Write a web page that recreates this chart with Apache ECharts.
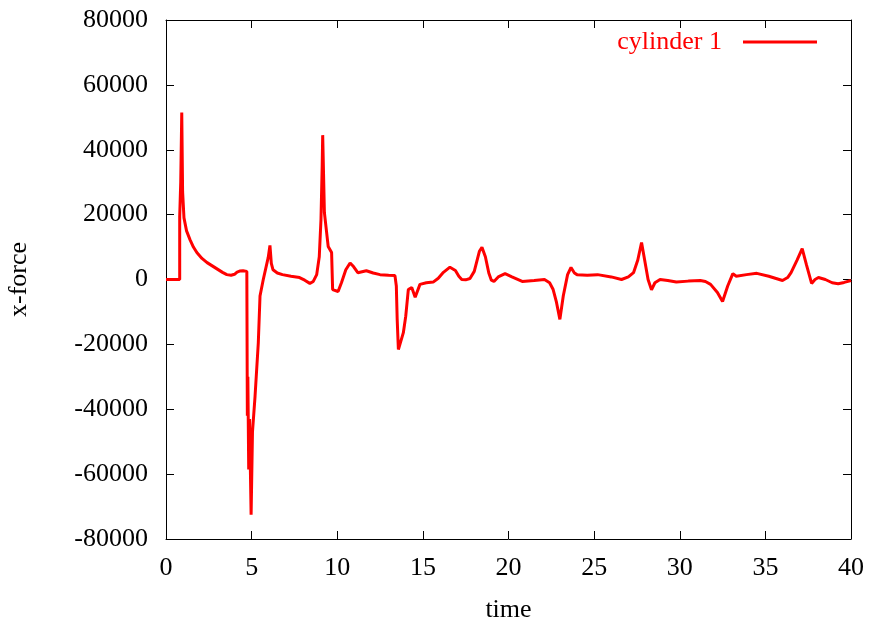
<!DOCTYPE html>
<html>
<head>
<meta charset="utf-8">
<script src="https://cdn.jsdelivr.net/npm/echarts@6/dist/echarts.min.js"></script>
<style>html,body{margin:0;padding:0;background:#fff}#c{width:872px;height:623px}</style>
</head>
<body>
<div id="c"></div>
<script>
const seriesName = 'cylinder 1';
const times = [0,0.8,0.8,0.86,0.92,0.97,1.05,1.2,1.4,1.6,1.8,2.1,2.4,2.7,3.0,3.3,3.55,3.8,4.0,4.15,4.3,4.5,4.72,
  4.75,4.78,4.83,4.88,4.97,5.05,5.2,5.39,5.49,5.68,5.97,6.07,6.15,6.25,6.5,6.8,7.3,7.8,8.1,8.4,8.6,8.8,8.95,9.05,9.12,9.15,
  9.25,9.47,9.67,9.73,10.05,10.25,10.5,10.75,10.95,11.2,11.7,12.1,12.5,13.0,13.37,13.45,13.5,13.57,13.86,14.0,14.15,14.35,14.55,14.83,
  15.2,15.6,15.9,16.2,16.58,16.9,17.1,17.27,17.5,17.75,18.0,18.3,18.45,18.65,18.85,19.0,19.15,19.4,19.8,20.2,20.8,21.5,22.1,22.4,22.6,22.8,
  23.0,23.2,23.45,23.65,23.85,24.0,24.6,25.2,26.0,26.6,27.0,27.3,27.55,27.77,27.95,28.15,28.35,28.55,28.85,29.3,29.8,30.5,31.2,31.5,31.8,
  32.2,32.5,32.8,33.1,33.3,33.9,34.5,35.2,36.0,36.3,36.5,36.85,37.15,37.4,37.7,37.9,38.1,38.5,38.9,39.25,39.6,40];
const forces = [0,0,19400,30000,51500,27000,19000,15000,12300,10000,8300,6500,5200,4200,3200,2200,1500,1300,1600,2300,2600,2700,2500,
  -42000,-30000,-58600,-43000,-72500,-47000,-36000,-19500,-5100,0,6800,10500,5000,3000,2000,1500,1000,600,-200,-1200,-600,1500,7000,18500,35000,44500,
  20600,10200,8300,-3100,-3700,-900,3000,5100,4000,2100,2700,2000,1500,1300,1200,-2000,-12300,-21600,-16400,-11300,-3100,-2500,-5500,-1500,
  -1000,-800,400,2200,3800,2800,1000,0,-100,300,2500,8700,9900,7000,2000,-200,-600,800,1800,800,-600,-300,0,-1000,-3000,-7000,
  -12300,-5000,1500,3700,2000,1500,1300,1500,800,0,800,2100,6000,11400,6000,0,-3200,-1000,0,-300,-800,-500,-300,-600,-1500,
  -4000,-6800,-2000,1800,1000,1500,1900,1000,-300,600,2100,6000,9500,4500,-1200,0,600,0,-1000,-1300,-900,-300];
const xTicks = {min: 0, max: 40, interval: 5};
const yTicks = {min: -80000, max: 80000, interval: 20000};

const data = times.map((t, i) => [t, forces[i]]);
const font = 'Liberation Serif';
const fs = 26;
const axisCommon = {
  axisLine: {show: true, onZero: false, lineStyle: {color: '#000', width: 1}},
  axisTick: {show: true, inside: true, length: 8, lineStyle: {color: '#000'}},
  splitLine: {show: false}
};
const chart = echarts.init(document.getElementById('c'));
chart.setOption({
  animation: false,
  grid: {left: 166, right: 21, top: 20, bottom: 84, outerBoundsMode: 'none', containLabel: false},
  legend: {
    data: [seriesName],
    right: 55, top: 29, padding: 0,
    align: 'right',
    icon: 'rect',
    itemWidth: 74, itemHeight: 3,
    textStyle: {color: '#ff0000', fontFamily: font, fontSize: fs, padding: [0, 16, 0, 0]}
  },
  xAxis: [
    Object.assign({type: 'value', min: xTicks.min, max: xTicks.max, interval: xTicks.interval,
      name: 'time', nameLocation: 'middle', nameGap: 58,
      nameTextStyle: {color: '#000', fontFamily: font, fontSize: fs},
      axisLabel: {color: '#000', fontFamily: font, fontSize: fs, margin: 16, formatter: v => String(v)}}, axisCommon),
    Object.assign({type: 'value', position: 'top', min: xTicks.min, max: xTicks.max, interval: xTicks.interval,
      axisLabel: {show: false}}, axisCommon)
  ],
  yAxis: [
    Object.assign({type: 'value', min: yTicks.min, max: yTicks.max, interval: yTicks.interval,
      name: 'x-force', nameLocation: 'middle', nameGap: 134,
      nameTextStyle: {color: '#000', fontFamily: font, fontSize: fs},
      axisLabel: {color: '#000', fontFamily: font, fontSize: fs, margin: 18, formatter: v => String(v)}}, axisCommon),
    Object.assign({type: 'value', position: 'right', min: yTicks.min, max: yTicks.max, interval: yTicks.interval,
      axisLabel: {show: false}}, axisCommon)
  ],
  series: [{
    name: seriesName,
    type: 'line',
    data: data,
    showSymbol: false,
    symbol: 'none',
    lineStyle: {color: '#ff0000', width: 3},
    itemStyle: {color: '#ff0000'}
  }]
});
</script>
</body>
</html>
